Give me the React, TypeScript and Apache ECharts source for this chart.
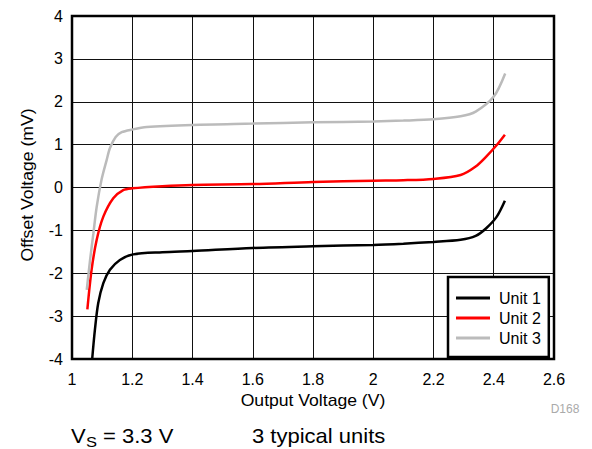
import React, { useEffect, useRef } from "react";
import * as echarts from "echarts";

const xTicks = [1, 1.2, 1.4, 1.6, 1.8, 2, 2.2, 2.4, 2.6];
const yTicks = [-4, -3, -2, -1, 0, 1, 2, 3, 4];

const seriesNames = ["Unit 1", "Unit 2", "Unit 3"];

const unit1: [number, number][] = [
  [1.067, -4.0], [1.076, -3.32], [1.087, -2.7], [1.104, -2.23], [1.126, -1.92],
  [1.159, -1.69], [1.203, -1.56], [1.3, -1.51], [1.4, -1.48], [1.6, -1.41],
  [1.8, -1.37], [2.0, -1.34], [2.1, -1.31], [2.2, -1.27], [2.29, -1.22],
  [2.34, -1.13], [2.375, -0.95], [2.41, -0.68], [2.437, -0.31],
];

const unit2: [number, number][] = [
  [1.051, -2.84], [1.065, -1.92], [1.082, -1.22], [1.104, -0.68], [1.137, -0.25],
  [1.17, -0.06], [1.2, -0.02], [1.3, 0.03], [1.4, 0.06], [1.6, 0.08],
  [1.8, 0.13], [2.0, 0.16], [2.1, 0.17], [2.2, 0.2], [2.29, 0.29],
  [2.34, 0.49], [2.375, 0.72], [2.41, 0.99], [2.437, 1.23],
];

const unit3: [number, number][] = [
  [1.049, -2.39], [1.06, -1.69], [1.071, -1.07], [1.082, -0.45], [1.098, 0.18],
  [1.115, 0.64], [1.126, 0.92], [1.145, 1.18], [1.165, 1.29], [1.198, 1.35],
  [1.248, 1.41], [1.4, 1.46], [1.6, 1.49], [1.8, 1.52], [2.0, 1.54], [2.1, 1.56],
  [2.2, 1.59], [2.29, 1.66], [2.34, 1.77], [2.4, 2.12], [2.438, 2.66],
];

const seriesData = [unit1, unit2, unit3];
const seriesColors = ["#000000", "#ff0000", "#bbbbbb"];

const FONT = "'Liberation Sans', Arial, Helvetica, sans-serif";

export default function App() {
  const ref = useRef<HTMLDivElement>(null);

  useEffect(() => {
    if (!ref.current) return;
    const chart = echarts.init(ref.current, null, { renderer: "svg" });
    const txt = (
      text: string,
      x: number,
      y: number,
      fontSize: number,
      extra: any = {},
      styleExtra: any = {}
    ) => ({
      type: "text",
      x,
      y,
      ...extra,
      style: {
        text,
        fontSize,
        fontFamily: FONT,
        fill: "#000",
        align: "left",
        verticalAlign: "middle",
        ...styleExtra,
      },
    });
    chart.setOption({
      animation: false,
      backgroundColor: "#ffffff",
      textStyle: { fontFamily: FONT },
      grid: {
        left: 72,
        right: 38,
        top: 16,
        bottom: 90,
        show: true,
        borderColor: "#000",
        borderWidth: 2.5,
        backgroundColor: "transparent",
        z: 3,
      },
      xAxis: {
        type: "value",
        min: 1,
        max: 2.6,
        interval: 0.2,
        axisLine: { show: false },
        axisTick: { show: false },
        splitLine: { show: true, lineStyle: { color: "#111", width: 1 } },
        axisLabel: {
          color: "#000",
          fontSize: 16,
          fontFamily: FONT,
          margin: 12,
          formatter: (v: number) => {
            const m = xTicks.find((t) => Math.abs(t - v) < 1e-6);
            return m !== undefined ? String(m) : "";
          },
        },
      },
      yAxis: {
        type: "value",
        min: -4,
        max: 4,
        interval: 1,
        axisLine: { show: false },
        axisTick: { show: false },
        splitLine: { show: true, lineStyle: { color: "#111", width: 1 } },
        axisLabel: {
          color: "#000",
          fontSize: 16,
          fontFamily: FONT,
          margin: 9,
          formatter: (v: number) => {
            const m = yTicks.find((t) => Math.abs(t - v) < 1e-6);
            return m !== undefined ? String(m) : "";
          },
        },
      },
      legend: {
        orient: "vertical",
        left: 448,
        top: 277,
        padding: [13, 8, 11, 8],
        itemGap: 4,
        itemWidth: 34,
        itemHeight: 3,
        icon: "rect",
        backgroundColor: "#fff",
        borderColor: "#000",
        borderWidth: 2.5,
        borderRadius: 0,
        textStyle: { color: "#000", fontSize: 16, fontFamily: FONT, padding: [0, 0, 0, 4] },
        data: seriesNames,
        z: 10,
      },
      series: seriesNames.map((name, i) => ({
        name,
        type: "line",
        data: seriesData[i],
        showSymbol: false,
        symbol: "none",
        smooth: 0.3,
        lineStyle: { color: seriesColors[i], width: 2.5 },
        itemStyle: { color: seriesColors[i] },
        z: 5,
      })),
      graphic: [
        txt("Offset Voltage (mV)", 28, 185, 16, { rotation: Math.PI / 2, scaleX: 1.1 }, { align: "center" }),
        txt("Output Voltage (V)", 313, 401, 16, { scaleX: 1.1 }, { align: "center" }),
        txt("D168", 565, 409, 12, {}, { align: "center", fill: "#aaaaaa" }),
        txt("V", 71, 436, 20, { scaleX: 1.1 }),
        txt("S", 86, 442, 15, { scaleX: 1.1 }),
        txt("= 3.3 V", 103, 436, 20, { scaleX: 1.1 }),
        txt("3 typical units", 252, 436, 20, { scaleX: 1.1 }),
      ],
    });
    return () => {
      chart.dispose();
    };
  }, []);

  return (
    <div
      ref={ref}
      style={{ position: "fixed", left: 0, top: 0, width: 592, height: 449 }}
    />
  );
}
